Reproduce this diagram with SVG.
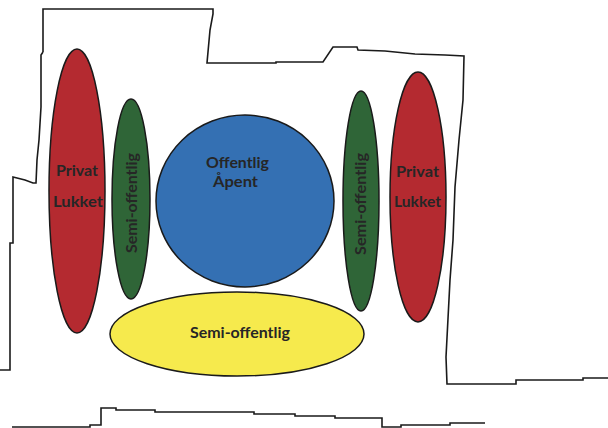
<svg xmlns="http://www.w3.org/2000/svg" width="608" height="428" viewBox="0 0 608 428">
<style>
.outline{fill:none;stroke:#1a1a1a;stroke-width:1.6;stroke-linejoin:miter}
.shape{stroke:#1a1a1a;stroke-width:1.5}
.red{fill:#b42a30}
.green{fill:#2f6537}
.blue{fill:#3470b3}
.yellow{fill:#f6ea4d}
.lbl{font-family:Lato,"Open Sans","Liberation Sans",sans-serif;font-size:16px;font-weight:bold;fill:#262626;text-anchor:middle}
</style>
<rect width="608" height="428" fill="#ffffff"/>
<g id="outline">
<polyline class="outline" points="43,52 43,9 213,9 213,14 210,30 207,63 276,63 276,62 323,62 333,47 357,47 358,50 385,51 415,54 445,55 464,56 463,100 459,140 455,187 453,240 450,280 446,357 447,384 516,384 516,380 583,380 583,378 608,378"/>
<polyline class="outline" points="43,52 41,55 41,107 39,140 37,160 36,183 33,183 25,180 13,177 13,243 10,243 10,370 0,370"/>
<polyline class="outline" points="12,427 90,427 90,425 101,425 101,408 116,408 116,410 155,410 155,412 254,412 254,414 295,414 295,416 335,416 335,418 382,418 382,427 401,427 401,425 450,425 450,423 485,423"/>
</g>
<g id="privat-left">
<ellipse class="shape red" cx="77" cy="191" rx="28" ry="142"/>
<text class="lbl" x="77" y="176" textLength="42" lengthAdjust="spacingAndGlyphs">Privat</text>
<text class="lbl" x="78" y="207" textLength="50" lengthAdjust="spacingAndGlyphs">Lukket</text>
</g>
<g id="semi-left">
<ellipse class="shape green" cx="131" cy="199" rx="19" ry="100"/>
<text class="lbl" transform="translate(137,203) rotate(-90)" textLength="100" lengthAdjust="spacingAndGlyphs">Semi-offentlig</text>
</g>
<g id="offentlig">
<ellipse class="shape blue" cx="245" cy="201" rx="89" ry="86"/>
<text class="lbl" x="237.5" y="168" font-size="17" textLength="63" lengthAdjust="spacingAndGlyphs">Offentlig</text>
<text class="lbl" x="235.5" y="187" font-size="17" textLength="45" lengthAdjust="spacingAndGlyphs">Åpent</text>
</g>
<g id="semi-right">
<ellipse class="shape green" cx="361" cy="201" rx="18" ry="110"/>
<text class="lbl" transform="translate(366,204) rotate(-90)" textLength="102" lengthAdjust="spacingAndGlyphs">Semi-offentlig</text>
</g>
<g id="privat-right">
<ellipse class="shape red" cx="418" cy="197" rx="28" ry="125"/>
<text class="lbl" x="417.5" y="177" textLength="43" lengthAdjust="spacingAndGlyphs">Privat</text>
<text class="lbl" x="417.5" y="207" textLength="47" lengthAdjust="spacingAndGlyphs">Lukket</text>
</g>
<g id="semi-bottom">
<ellipse class="shape yellow" cx="237" cy="334" rx="127" ry="42"/>
<text class="lbl" x="240" y="338" textLength="100" lengthAdjust="spacingAndGlyphs">Semi-offentlig</text>
</g>
</svg>
